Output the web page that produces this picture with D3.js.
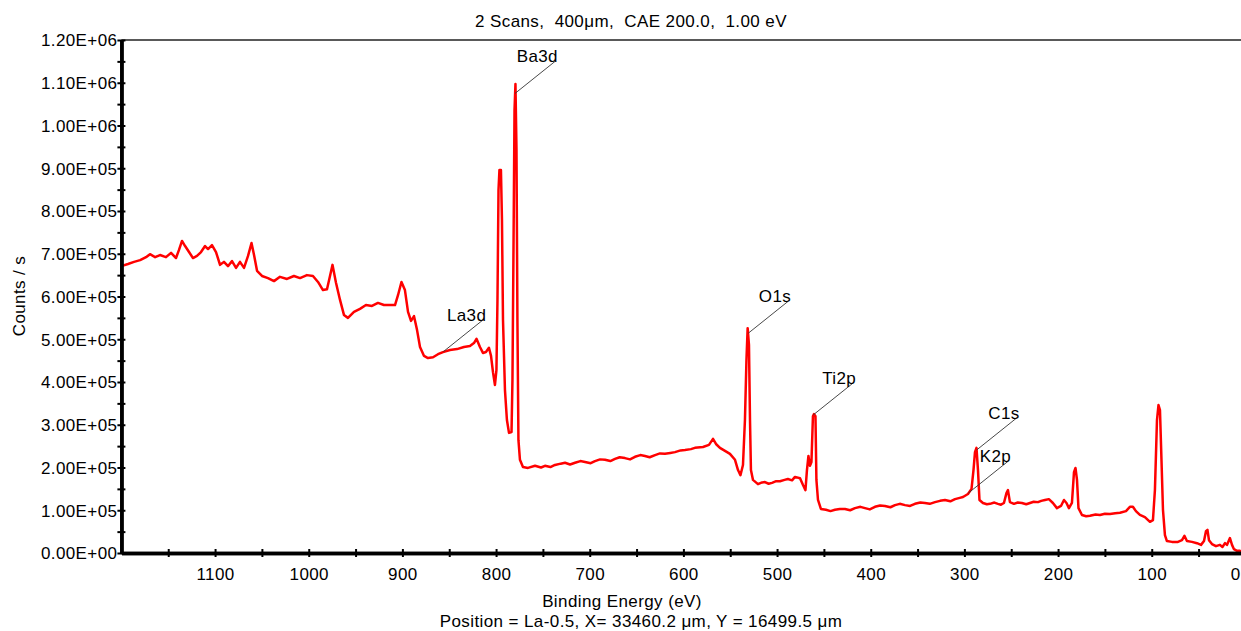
<!DOCTYPE html>
<html><head><meta charset="utf-8">
<script src="https://cdn.jsdelivr.net/npm/d3@7"></script>
<style>
html,body{margin:0;padding:0;background:#fff;}
svg{display:block;}
text{font-family:"Liberation Sans",Arial,sans-serif;fill:#000;white-space:pre;}
</style></head><body>
<svg id="chart" width="1241" height="631"></svg>
<script>
const bindingEnergy = [
1200,1193,1186.5,1180,1173.7,1169.5,1164,1158.8,1152.4,1147,1141.7,1138.5,1135.3,1132,1127.8,1123.6,1119.3,1115,1110.7,1107.5,
1103.3,1099,1094.7,1090.5,1086.2,1081.9,1077.6,1073.4,1069.1,1064.8,1061.1,1058.4,1055.2,1049.9,1043.5,1037.1,1030.7,1023.2,1015.8,1009.3,
1001.9,995.5,990.1,984.8,980.5,977.3,974.6,970.9,966.6,962.4,958.1,951.7,945.3,938.9,932.5,926.1,919.7,913.3,907.9,904.7,
901,897.3,894,890.8,887.6,884.4,881.2,876.9,872.7,867.3,862,856.7,849.2,841.7,834.3,827.9,823.6,820.9,817.2,814,
810.8,807.6,805.4,803.3,801.2,799.6,798.5,797.4,796.4,794.8,793.7,792.6,790.5,788.4,786.2,783.5,782.5,781.4,780.3,779.3,
778.2,777.2,776.1,774.5,771.3,765.9,758.4,752,747.8,742,737.1,731,726.4,721,715.7,710,705,699,694.4,689,683.7,678,673,668,662.4,657,651.7,646,641,636,630.3,625,619.7,
614,609,603,598.3,592,587.7,579.1,572.7,568.4,565.2,561,555.6,550.3,544.9,541.7,539.1,536.4,534.3,532.7,531.4,530,528.9,527.9,
525.7,520.4,516,512.9,509,505.4,501,496.9,492,488.4,484,480.9,475.5,472.3,469.7,468.1,466.5,464.9,463.3,461.7,460.6,459,458,456.3,453.2,
447.8,443,438.2,433,427.5,422,416.8,411,406.1,401,395.5,390,384.8,379,374.1,369,363.4,358,352.8,347,342.1,337,331.4,326,320.7,315,310,305,301.5,296.2,292.4,290.3,288.7,287.1,
285.5,283.9,280.2,276,272.7,268,264.2,261,257.8,255.1,253.5,251.4,247.1,243,238.6,234,230,226,221.5,218,214,209.8,205.5,201.2,196.9,193.7,191,
188.4,185.2,183,181.4,179.8,178.2,174.5,170,165.9,160,155.3,150,144.6,139,133.9,127.5,123.3,120.1,116.9,112.6,107.3,101.9,98.7,96.6,
94.4,92.8,91.2,89.6,88,85.9,83.8,78.4,72,67.7,65.1,62.4,57.1,51.7,47.4,44.2,42.1,40.5,38.9,35.7,
31.4,27.2,24.5,21.8,19.7,16.5,14.3,12.2,9,5.8,2.6,0
];
const counts = [
671000,676000,681000,685000,692000,699000,692000,697000,692000,702000,690000,709000,730000,718000,704000,690000,695000,704000,718000,711000,
720000,704000,674000,681000,671000,683000,667000,681000,667000,695000,725000,697000,660000,648000,643000,636000,646000,641000,648000,643000,
650000,648000,634000,615000,617000,648000,674000,632000,592000,557000,550000,564000,571000,580000,578000,585000,580000,580000,580000,603000,
634000,615000,564000,543000,554000,522000,482000,461000,456000,458000,465000,470000,475000,477000,482000,484000,491000,501000,482000,468000,
470000,480000,461000,423000,393000,428000,592000,849000,896000,896000,779000,545000,381000,311000,281000,283000,405000,709000,1036000,1097000,
943000,545000,264000,218000,201000,199000,204000,200000,204000,201000,206000,209000,211000,207000,211000,215000,213000,210000,215000,219000,218000,215000,220000,224000,222000,219000,225000,229000,227000,224000,229000,233000,232000,
234000,236000,240000,241000,243000,246000,248000,253000,267000,255000,246000,239000,232000,218000,194000,182000,206000,311000,451000,526000,487000,311000,194000,
171000,161000,165000,166000,162000,164000,168000,168000,171000,173000,170000,178000,175000,159000,147000,194000,227000,204000,213000,320000,325000,320000,171000,124000,103000,
101000,98000,101000,103000,103000,100000,105000,108000,105000,102000,108000,111000,110000,107000,112000,115000,112000,110000,115000,118000,117000,115000,119000,122000,124000,121000,126000,129000,131000,138000,150000,194000,236000,246000,
194000,124000,117000,114000,115000,118000,115000,113000,117000,140000,147000,119000,115000,118000,117000,114000,117000,120000,119000,122000,124000,126000,117000,105000,110000,124000,117000,
105000,117000,189000,199000,171000,105000,89000,86000,87000,90000,89000,92000,91000,93000,94000,98000,108000,108000,98000,89000,84000,73000,77000,147000,
311000,346000,334000,218000,101000,42000,28000,26000,26000,30000,40000,28000,26000,23000,19000,28000,51000,54000,30000,21000,
16000,19000,14000,23000,19000,35000,19000,9000,5000,5000,2000,2000
];
const peakLabels = ["Ba3d","La3d","O1s","Ti2p","C1s","K2p"];
const peakEnergy = [779.8,856.3,530.8,461.4,286.9,295.9];
const peakCounts = [1075000,471000,514000,323000,241000,140000];
const yMajorTicks = [0,100000,200000,300000,400000,500000,600000,700000,800000,900000,1000000,1100000,1200000];
const yMinorTicks = [50000,150000,250000,350000,450000,550000,650000,750000,850000,950000,1050000,1150000];
const xMajorTicks = [1100,1000,900,800,700,600,500,400,300,200,100,0];
const xMinorTicks = [1150,1050,950,850,750,650,550,450,350,250,150,50];
const titleText = "2 Scans,  400\u03bcm,  CAE 200.0,  1.00 eV";
const xAxisTitle = "Binding Energy (eV)";
const yAxisTitle = "Counts / s";
const footerText = "Position = La-0.5, X= 33460.2 \u03bcm, Y = 16499.5 \u03bcm";

const W = 1241;
const FONT = 17, LS = "0.4px";
const svg = d3.select("#chart");
const x = d3.scaleLinear().domain([1200, 0]).range([121.4, 1245.4]);
const y = d3.scaleLinear().domain([0, 1200000]).range([553, 40]);

// top frame line
svg.append("line")
  .attr("x1", x(1200)).attr("x2", W)
  .attr("y1", y(1200000)).attr("y2", y(1200000))
  .attr("stroke", "#222").attr("stroke-width", 1.5);

// spectrum
const pts = bindingEnergy.map((e, i) => [e, counts[i]]);
svg.append("path").datum(pts)
  .attr("fill", "none").attr("stroke", "#ff0000")
  .attr("stroke-width", 2.5).attr("stroke-linejoin", "round")
  .attr("d", d3.line().x(d => x(d[0])).y(d => y(d[1])));

function fmtE(v) {
  if (v === 0) return "0.00E+00";
  const e = Math.floor(Math.log10(v) + 1e-9);
  const m = v / Math.pow(10, e);
  return m.toFixed(2) + "E+" + String(e).padStart(2, "0");
}

function styleAxis(g, vertical) {
  g.select(".domain").attr("stroke", "#000").attr("stroke-width", 3.5);
  g.selectAll(".tick line").attr("stroke", "#000").attr("stroke-width", 2);
  if (vertical) g.selectAll(".tick line").attr("x1", 4).attr("x2", -4);
  else g.selectAll(".tick line").attr("y1", -4).attr("y2", 4);
  g.selectAll("text").attr("font-family", '"Liberation Sans",Arial,sans-serif')
    .attr("font-size", FONT).style("letter-spacing", LS).attr("fill", "#000");
  g.attr("font-family", null).attr("font-size", null);
}

// Y axis
const gyMinor = svg.append("g").attr("transform", `translate(${x(1200)},0)`)
  .call(d3.axisLeft(y).tickValues(yMinorTicks).tickFormat("").tickSize(4).tickSizeOuter(0));
styleAxis(gyMinor, true);
const gy = svg.append("g").attr("transform", `translate(${x(1200)},0)`)
  .call(d3.axisLeft(y).tickValues(yMajorTicks).tickFormat(fmtE).tickSize(4).tickPadding(0).tickSizeOuter(0));
styleAxis(gy, true);
gy.selectAll(".tick text").attr("dy", "0.34em");

// X axis
const gxMinor = svg.append("g").attr("transform", `translate(0,${y(0)})`)
  .call(d3.axisBottom(x).tickValues(xMinorTicks).tickFormat("").tickSize(4).tickSizeOuter(0));
styleAxis(gxMinor, false);
const gx = svg.append("g").attr("transform", `translate(0,${y(0)})`)
  .call(d3.axisBottom(x).tickValues(xMajorTicks).tickFormat(d3.format("d")).tickSize(4).tickPadding(11).tickSizeOuter(0));
styleAxis(gx, false);
// keep the last label inside the picture (the plot runs past the right edge)
gx.selectAll(".tick").filter(d => d === 0).select("text")
  .attr("text-anchor", "end").attr("x", W - 1 - x(0));

// peak annotations
const ann = svg.append("g");
peakLabels.forEach((lab, i) => {
  const px = x(peakEnergy[i]), py = y(peakCounts[i]);
  ann.append("line").attr("x1", px).attr("y1", py).attr("x2", px + 40).attr("y2", py - 32)
    .attr("stroke", "#333").attr("stroke-width", 0.9);
  ann.append("text").attr("x", px + 43).attr("y", py - 31)
    .attr("text-anchor", "end").attr("font-size", FONT).style("letter-spacing", LS).text(lab);
});

// titles
svg.append("text").attr("x", 631).attr("y", 27).attr("text-anchor", "middle")
  .attr("font-size", FONT).style("letter-spacing", LS).text(titleText);
svg.append("text").attr("x", 622).attr("y", 607).attr("text-anchor", "middle")
  .attr("font-size", FONT).style("letter-spacing", LS).text(xAxisTitle);
svg.append("text").attr("x", 641).attr("y", 627).attr("text-anchor", "middle")
  .attr("font-size", FONT).style("letter-spacing", LS).text(footerText);
svg.append("text").attr("transform", "translate(25,296) rotate(-90)").attr("text-anchor", "middle")
  .attr("font-size", FONT).style("letter-spacing", LS).text(yAxisTitle);
</script>
</body></html>
